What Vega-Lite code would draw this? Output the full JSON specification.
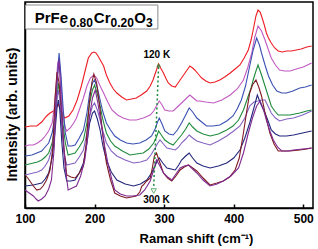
{
  "$schema": "https://vega.github.io/schema/vega-lite/v6.json",
  "width": 288,
  "height": 206,
  "autosize": {"type": "none"},
  "padding": {"left": 25, "top": 2, "right": 5, "bottom": 41},
  "config": {
    "font": "Liberation Sans",
    "view": {"stroke": "black", "strokeWidth": 1.5},
    "axis": {"grid": false}
  },
  "datasets": {
    "spectra": [
      {"s":"1","x":100,"y":81},{"s":"1","x":108,"y":82},{"s":"1","x":117,"y":82},{"s":"1","x":124,"y":86},{"s":"1","x":131,"y":92},{"s":"1","x":136,"y":95},{"s":"1","x":141,"y":97},{"s":"1","x":145,"y":100},{"s":"1","x":148,"y":104},{"s":"1","x":151,"y":98},{"s":"1","x":157,"y":90},{"s":"1","x":163,"y":92},{"s":"1","x":169,"y":98},{"s":"1","x":175,"y":108},{"s":"1","x":181,"y":122},{"s":"1","x":186,"y":136},{"s":"1","x":191,"y":150},{"s":"1","x":196,"y":155},{"s":"1","x":199,"y":156},{"s":"1","x":202,"y":155},{"s":"1","x":205,"y":152},{"s":"1","x":209,"y":147},{"s":"1","x":213,"y":142},{"s":"1","x":217,"y":133},{"s":"1","x":222,"y":125},{"s":"1","x":227,"y":119},{"s":"1","x":232,"y":115},{"s":"1","x":239,"y":111},{"s":"1","x":246,"y":108},{"s":"1","x":253,"y":109},{"s":"1","x":260,"y":110},{"s":"1","x":267,"y":113},{"s":"1","x":275,"y":117},{"s":"1","x":280,"y":122},{"s":"1","x":284,"y":128},{"s":"1","x":288,"y":136},{"s":"1","x":292,"y":144},{"s":"1","x":295,"y":140},{"s":"1","x":299,"y":135},{"s":"1","x":303,"y":129},{"s":"1","x":306,"y":125},{"s":"1","x":311,"y":122},{"s":"1","x":316,"y":121},{"s":"1","x":320,"y":125},{"s":"1","x":325,"y":130},{"s":"1","x":331,"y":136},{"s":"1","x":337,"y":142},{"s":"1","x":341,"y":140},{"s":"1","x":344,"y":138},{"s":"1","x":349,"y":134},{"s":"1","x":354,"y":130},{"s":"1","x":360,"y":127},{"s":"1","x":366,"y":125},{"s":"1","x":373,"y":126},{"s":"1","x":380,"y":128},{"s":"1","x":387,"y":131},{"s":"1","x":395,"y":135},{"s":"1","x":402,"y":139},{"s":"1","x":409,"y":143},{"s":"1","x":415,"y":150},{"s":"1","x":421,"y":158},{"s":"1","x":425,"y":168},{"s":"1","x":428,"y":178},{"s":"1","x":432,"y":192},{"s":"1","x":435,"y":198},{"s":"1","x":438,"y":196},{"s":"1","x":440,"y":192},{"s":"1","x":444,"y":183},{"s":"1","x":447,"y":175},{"s":"1","x":450,"y":170},{"s":"1","x":454,"y":165},{"s":"1","x":459,"y":160},{"s":"1","x":464,"y":157},{"s":"1","x":470,"y":156},{"s":"1","x":476,"y":157},{"s":"1","x":483,"y":157},{"s":"1","x":490,"y":158},{"s":"1","x":497,"y":159},{"s":"1","x":505,"y":161},{"s":"1","x":512,"y":162},
      {"s":"2","x":100,"y":62},{"s":"2","x":106,"y":63},{"s":"2","x":112,"y":63},{"s":"2","x":118,"y":65},{"s":"2","x":124,"y":68},{"s":"2","x":129,"y":72},{"s":"2","x":134,"y":77},{"s":"2","x":139,"y":85},{"s":"2","x":142,"y":100},{"s":"2","x":145,"y":125},{"s":"2","x":147,"y":145},{"s":"2","x":149,"y":150},{"s":"2","x":151,"y":135},{"s":"2","x":153,"y":110},{"s":"2","x":155,"y":90},{"s":"2","x":158,"y":80},{"s":"2","x":160,"y":77},{"s":"2","x":165,"y":80},{"s":"2","x":170,"y":85},{"s":"2","x":174,"y":90},{"s":"2","x":179,"y":100},{"s":"2","x":184,"y":110},{"s":"2","x":189,"y":122},{"s":"2","x":194,"y":130},{"s":"2","x":199,"y":133},{"s":"2","x":203,"y":130},{"s":"2","x":208,"y":122},{"s":"2","x":213,"y":115},{"s":"2","x":219,"y":106},{"s":"2","x":225,"y":98},{"s":"2","x":233,"y":93},{"s":"2","x":241,"y":90},{"s":"2","x":250,"y":88},{"s":"2","x":260,"y":88},{"s":"2","x":270,"y":90},{"s":"2","x":280,"y":93},{"s":"2","x":285,"y":97},{"s":"2","x":289,"y":102},{"s":"2","x":293,"y":107},{"s":"2","x":297,"y":103},{"s":"2","x":301,"y":98},{"s":"2","x":307,"y":97},{"s":"2","x":313,"y":97},{"s":"2","x":319,"y":101},{"s":"2","x":325,"y":105},{"s":"2","x":331,"y":109},{"s":"2","x":337,"y":113},{"s":"2","x":342,"y":110},{"s":"2","x":347,"y":107},{"s":"2","x":351,"y":107},{"s":"2","x":360,"y":106},{"s":"2","x":371,"y":105},{"s":"2","x":383,"y":108},{"s":"2","x":395,"y":113},{"s":"2","x":405,"y":119},{"s":"2","x":414,"y":128},{"s":"2","x":420,"y":140},{"s":"2","x":426,"y":155},{"s":"2","x":430,"y":170},{"s":"2","x":435,"y":182},{"s":"2","x":440,"y":177},{"s":"2","x":445,"y":168},{"s":"2","x":450,"y":158},{"s":"2","x":454,"y":150},{"s":"2","x":460,"y":143},{"s":"2","x":466,"y":138},{"s":"2","x":473,"y":137},{"s":"2","x":481,"y":137},{"s":"2","x":490,"y":139},{"s":"2","x":500,"y":141},{"s":"2","x":512,"y":145},
      {"s":"3","x":100,"y":52},{"s":"3","x":110,"y":53},{"s":"3","x":117,"y":55},{"s":"3","x":124,"y":57},{"s":"3","x":129,"y":61},{"s":"3","x":134,"y":65},{"s":"3","x":139,"y":75},{"s":"3","x":143,"y":92},{"s":"3","x":146,"y":125},{"s":"3","x":149,"y":155},{"s":"3","x":152,"y":130},{"s":"3","x":155,"y":98},{"s":"3","x":158,"y":75},{"s":"3","x":162,"y":62},{"s":"3","x":167,"y":62},{"s":"3","x":172,"y":63},{"s":"3","x":178,"y":70},{"s":"3","x":184,"y":78},{"s":"3","x":189,"y":95},{"s":"3","x":193,"y":115},{"s":"3","x":197,"y":125},{"s":"3","x":200,"y":128},{"s":"3","x":204,"y":120},{"s":"3","x":208,"y":108},{"s":"3","x":212,"y":96},{"s":"3","x":217,"y":85},{"s":"3","x":223,"y":78},{"s":"3","x":229,"y":72},{"s":"3","x":237,"y":68},{"s":"3","x":246,"y":65},{"s":"3","x":255,"y":64},{"s":"3","x":265,"y":65},{"s":"3","x":274,"y":68},{"s":"3","x":282,"y":72},{"s":"3","x":287,"y":79},{"s":"3","x":290,"y":85},{"s":"3","x":293,"y":90},{"s":"3","x":297,"y":84},{"s":"3","x":301,"y":77},{"s":"3","x":307,"y":74},{"s":"3","x":313,"y":73},{"s":"3","x":319,"y":78},{"s":"3","x":325,"y":85},{"s":"3","x":331,"y":93},{"s":"3","x":336,"y":100},{"s":"3","x":341,"y":96},{"s":"3","x":347,"y":90},{"s":"3","x":354,"y":86},{"s":"3","x":361,"y":82},{"s":"3","x":370,"y":82},{"s":"3","x":380,"y":83},{"s":"3","x":390,"y":87},{"s":"3","x":399,"y":92},{"s":"3","x":405,"y":99},{"s":"3","x":411,"y":108},{"s":"3","x":417,"y":122},{"s":"3","x":423,"y":142},{"s":"3","x":428,"y":158},{"s":"3","x":433,"y":170},{"s":"3","x":437,"y":163},{"s":"3","x":440,"y":155},{"s":"3","x":445,"y":143},{"s":"3","x":450,"y":132},{"s":"3","x":456,"y":123},{"s":"3","x":462,"y":117},{"s":"3","x":469,"y":115},{"s":"3","x":476,"y":115},{"s":"3","x":485,"y":117},{"s":"3","x":495,"y":120},{"s":"3","x":503,"y":121},{"s":"3","x":512,"y":123},
      {"s":"4","x":100,"y":43},{"s":"4","x":112,"y":45},{"s":"4","x":118,"y":46},{"s":"4","x":124,"y":48},{"s":"4","x":129,"y":51},{"s":"4","x":134,"y":55},{"s":"4","x":139,"y":65},{"s":"4","x":143,"y":82},{"s":"4","x":146,"y":110},{"s":"4","x":148,"y":125},{"s":"4","x":150,"y":115},{"s":"4","x":152,"y":100},{"s":"4","x":155,"y":82},{"s":"4","x":158,"y":65},{"s":"4","x":162,"y":53},{"s":"4","x":167,"y":54},{"s":"4","x":172,"y":55},{"s":"4","x":178,"y":61},{"s":"4","x":184,"y":68},{"s":"4","x":189,"y":85},{"s":"4","x":193,"y":105},{"s":"4","x":197,"y":118},{"s":"4","x":200,"y":123},{"s":"4","x":204,"y":114},{"s":"4","x":208,"y":102},{"s":"4","x":212,"y":88},{"s":"4","x":217,"y":75},{"s":"4","x":223,"y":67},{"s":"4","x":229,"y":62},{"s":"4","x":240,"y":57},{"s":"4","x":251,"y":53},{"s":"4","x":260,"y":54},{"s":"4","x":270,"y":55},{"s":"4","x":278,"y":59},{"s":"4","x":285,"y":65},{"s":"4","x":289,"y":71},{"s":"4","x":292,"y":77},{"s":"4","x":296,"y":73},{"s":"4","x":301,"y":68},{"s":"4","x":307,"y":65},{"s":"4","x":313,"y":63},{"s":"4","x":319,"y":68},{"s":"4","x":325,"y":73},{"s":"4","x":331,"y":79},{"s":"4","x":336,"y":85},{"s":"4","x":341,"y":81},{"s":"4","x":347,"y":77},{"s":"4","x":356,"y":74},{"s":"4","x":366,"y":72},{"s":"4","x":378,"y":74},{"s":"4","x":390,"y":78},{"s":"4","x":399,"y":82},{"s":"4","x":407,"y":88},{"s":"4","x":414,"y":98},{"s":"4","x":421,"y":112},{"s":"4","x":425,"y":120},{"s":"4","x":428,"y":128},{"s":"4","x":432,"y":137},{"s":"4","x":435,"y":143},{"s":"4","x":440,"y":133},{"s":"4","x":445,"y":122},{"s":"4","x":450,"y":111},{"s":"4","x":454,"y":102},{"s":"4","x":459,"y":97},{"s":"4","x":464,"y":93},{"s":"4","x":472,"y":93},{"s":"4","x":481,"y":93},{"s":"4","x":495,"y":95},{"s":"4","x":505,"y":97},{"s":"4","x":512,"y":98},
      {"s":"5","x":100,"y":33},{"s":"5","x":112,"y":35},{"s":"5","x":118,"y":36},{"s":"5","x":124,"y":38},{"s":"5","x":129,"y":42},{"s":"5","x":134,"y":48},{"s":"5","x":139,"y":60},{"s":"5","x":143,"y":85},{"s":"5","x":146,"y":110},{"s":"5","x":148,"y":118},{"s":"5","x":150,"y":108},{"s":"5","x":153,"y":80},{"s":"5","x":156,"y":55},{"s":"5","x":160,"y":43},{"s":"5","x":166,"y":44},{"s":"5","x":172,"y":45},{"s":"5","x":178,"y":51},{"s":"5","x":184,"y":58},{"s":"5","x":189,"y":75},{"s":"5","x":193,"y":92},{"s":"5","x":197,"y":102},{"s":"5","x":200,"y":105},{"s":"5","x":204,"y":98},{"s":"5","x":208,"y":88},{"s":"5","x":212,"y":77},{"s":"5","x":217,"y":65},{"s":"5","x":224,"y":57},{"s":"5","x":232,"y":52},{"s":"5","x":244,"y":48},{"s":"5","x":256,"y":45},{"s":"5","x":266,"y":46},{"s":"5","x":275,"y":48},{"s":"5","x":281,"y":53},{"s":"5","x":287,"y":60},{"s":"5","x":291,"y":65},{"s":"5","x":294,"y":68},{"s":"5","x":299,"y":64},{"s":"5","x":304,"y":60},{"s":"5","x":310,"y":59},{"s":"5","x":316,"y":58},{"s":"5","x":321,"y":61},{"s":"5","x":325,"y":65},{"s":"5","x":331,"y":69},{"s":"5","x":336,"y":73},{"s":"5","x":341,"y":70},{"s":"5","x":347,"y":67},{"s":"5","x":356,"y":65},{"s":"5","x":366,"y":63},{"s":"5","x":378,"y":67},{"s":"5","x":390,"y":72},{"s":"5","x":400,"y":77},{"s":"5","x":409,"y":82},{"s":"5","x":416,"y":90},{"s":"5","x":423,"y":102},{"s":"5","x":429,"y":106},{"s":"5","x":435,"y":107},{"s":"5","x":440,"y":108},{"s":"5","x":445,"y":108},{"s":"5","x":450,"y":101},{"s":"5","x":454,"y":95},{"s":"5","x":460,"y":90},{"s":"5","x":466,"y":87},{"s":"5","x":476,"y":89},{"s":"5","x":486,"y":90},{"s":"5","x":499,"y":93},{"s":"5","x":512,"y":97},
      {"s":"6","x":100,"y":22},{"s":"6","x":112,"y":23},{"s":"6","x":118,"y":24},{"s":"6","x":124,"y":25},{"s":"6","x":129,"y":29},{"s":"6","x":134,"y":35},{"s":"6","x":139,"y":50},{"s":"6","x":143,"y":75},{"s":"6","x":146,"y":100},{"s":"6","x":148,"y":108},{"s":"6","x":150,"y":98},{"s":"6","x":153,"y":65},{"s":"6","x":156,"y":40},{"s":"6","x":160,"y":27},{"s":"6","x":166,"y":27},{"s":"6","x":172,"y":28},{"s":"6","x":178,"y":35},{"s":"6","x":184,"y":45},{"s":"6","x":189,"y":65},{"s":"6","x":193,"y":85},{"s":"6","x":197,"y":95},{"s":"6","x":200,"y":97},{"s":"6","x":204,"y":89},{"s":"6","x":208,"y":78},{"s":"6","x":212,"y":62},{"s":"6","x":217,"y":48},{"s":"6","x":224,"y":36},{"s":"6","x":232,"y":28},{"s":"6","x":244,"y":24},{"s":"6","x":256,"y":22},{"s":"6","x":266,"y":24},{"s":"6","x":275,"y":28},{"s":"6","x":281,"y":34},{"s":"6","x":287,"y":42},{"s":"6","x":290,"y":47},{"s":"6","x":293,"y":50},{"s":"6","x":298,"y":45},{"s":"6","x":304,"y":40},{"s":"6","x":310,"y":39},{"s":"6","x":316,"y":38},{"s":"6","x":321,"y":43},{"s":"6","x":325,"y":48},{"s":"6","x":331,"y":52},{"s":"6","x":336,"y":55},{"s":"6","x":341,"y":50},{"s":"6","x":347,"y":45},{"s":"6","x":356,"y":42},{"s":"6","x":366,"y":40},{"s":"6","x":378,"y":42},{"s":"6","x":390,"y":45},{"s":"6","x":400,"y":50},{"s":"6","x":409,"y":58},{"s":"6","x":416,"y":70},{"s":"6","x":423,"y":85},{"s":"6","x":429,"y":100},{"s":"6","x":434,"y":113},{"s":"6","x":439,"y":104},{"s":"6","x":445,"y":95},{"s":"6","x":450,"y":86},{"s":"6","x":454,"y":78},{"s":"6","x":460,"y":74},{"s":"6","x":466,"y":72},{"s":"6","x":476,"y":72},{"s":"6","x":486,"y":73},{"s":"6","x":499,"y":75},{"s":"6","x":512,"y":77},
      {"s":"7","x":100,"y":33},{"s":"7","x":104,"y":30},{"s":"7","x":107,"y":27},{"s":"7","x":112,"y":22},{"s":"7","x":117,"y":18},{"s":"7","x":122,"y":19},{"s":"7","x":126,"y":22},{"s":"7","x":131,"y":28},{"s":"7","x":136,"y":38},{"s":"7","x":140,"y":60},{"s":"7","x":143,"y":108},{"s":"7","x":146,"y":136},{"s":"7","x":149,"y":125},{"s":"7","x":151,"y":110},{"s":"7","x":153,"y":92},{"s":"7","x":156,"y":60},{"s":"7","x":160,"y":33},{"s":"7","x":166,"y":31},{"s":"7","x":172,"y":30},{"s":"7","x":178,"y":35},{"s":"7","x":184,"y":42},{"s":"7","x":188,"y":65},{"s":"7","x":192,"y":102},{"s":"7","x":196,"y":125},{"s":"7","x":199,"y":134},{"s":"7","x":203,"y":125},{"s":"7","x":208,"y":98},{"s":"7","x":212,"y":72},{"s":"7","x":217,"y":45},{"s":"7","x":223,"y":28},{"s":"7","x":229,"y":15},{"s":"7","x":237,"y":12},{"s":"7","x":246,"y":10},{"s":"7","x":253,"y":11},{"s":"7","x":260,"y":12},{"s":"7","x":265,"y":16},{"s":"7","x":268,"y":22},{"s":"7","x":270,"y":23},{"s":"7","x":275,"y":27},{"s":"7","x":280,"y":30},{"s":"7","x":283,"y":40},{"s":"7","x":286,"y":52},{"s":"7","x":289,"y":55},{"s":"7","x":294,"y":45},{"s":"7","x":299,"y":35},{"s":"7","x":305,"y":30},{"s":"7","x":311,"y":27},{"s":"7","x":317,"y":32},{"s":"7","x":323,"y":38},{"s":"7","x":329,"y":41},{"s":"7","x":335,"y":43},{"s":"7","x":341,"y":40},{"s":"7","x":347,"y":37},{"s":"7","x":356,"y":30},{"s":"7","x":366,"y":23},{"s":"7","x":376,"y":25},{"s":"7","x":385,"y":27},{"s":"7","x":394,"y":31},{"s":"7","x":402,"y":38},{"s":"7","x":408,"y":50},{"s":"7","x":414,"y":75},{"s":"7","x":419,"y":98},{"s":"7","x":423,"y":115},{"s":"7","x":427,"y":123},{"s":"7","x":432,"y":128},{"s":"7","x":436,"y":121},{"s":"7","x":440,"y":112},{"s":"7","x":446,"y":92},{"s":"7","x":452,"y":75},{"s":"7","x":458,"y":64},{"s":"7","x":464,"y":57},{"s":"7","x":472,"y":57},{"s":"7","x":481,"y":57},{"s":"7","x":495,"y":58},{"s":"7","x":505,"y":59},{"s":"7","x":512,"y":60},
      {"s":"8","x":100,"y":18},{"s":"8","x":106,"y":15},{"s":"8","x":112,"y":12},{"s":"8","x":116,"y":9},{"s":"8","x":119,"y":7},{"s":"8","x":124,"y":9},{"s":"8","x":129,"y":12},{"s":"8","x":134,"y":19},{"s":"8","x":138,"y":28},{"s":"8","x":142,"y":60},{"s":"8","x":144,"y":95},{"s":"8","x":146,"y":125},{"s":"8","x":149,"y":148},{"s":"8","x":151,"y":120},{"s":"8","x":153,"y":95},{"s":"8","x":155,"y":68},{"s":"8","x":158,"y":40},{"s":"8","x":162,"y":18},{"s":"8","x":168,"y":20},{"s":"8","x":174,"y":22},{"s":"8","x":180,"y":32},{"s":"8","x":186,"y":48},{"s":"8","x":190,"y":70},{"s":"8","x":193,"y":93},{"s":"8","x":197,"y":110},{"s":"8","x":201,"y":118},{"s":"8","x":205,"y":104},{"s":"8","x":210,"y":82},{"s":"8","x":215,"y":60},{"s":"8","x":220,"y":42},{"s":"8","x":225,"y":28},{"s":"8","x":229,"y":18},{"s":"8","x":237,"y":14},{"s":"8","x":246,"y":12},{"s":"8","x":255,"y":12},{"s":"8","x":265,"y":13},{"s":"8","x":272,"y":18},{"s":"8","x":280,"y":27},{"s":"8","x":285,"y":38},{"s":"8","x":289,"y":48},{"s":"8","x":294,"y":42},{"s":"8","x":299,"y":35},{"s":"8","x":305,"y":31},{"s":"8","x":311,"y":28},{"s":"8","x":317,"y":34},{"s":"8","x":323,"y":40},{"s":"8","x":329,"y":42},{"s":"8","x":335,"y":43},{"s":"8","x":341,"y":39},{"s":"8","x":347,"y":35},{"s":"8","x":356,"y":28},{"s":"8","x":366,"y":22},{"s":"8","x":376,"y":24},{"s":"8","x":385,"y":27},{"s":"8","x":396,"y":32},{"s":"8","x":407,"y":40},{"s":"8","x":414,"y":55},{"s":"8","x":421,"y":75},{"s":"8","x":427,"y":90},{"s":"8","x":433,"y":102},{"s":"8","x":438,"y":107},{"s":"8","x":443,"y":98},{"s":"8","x":447,"y":88},{"s":"8","x":452,"y":77},{"s":"8","x":457,"y":68},{"s":"8","x":463,"y":61},{"s":"8","x":469,"y":57},{"s":"8","x":478,"y":57},{"s":"8","x":486,"y":58},{"s":"8","x":499,"y":59},{"s":"8","x":512,"y":60}
    ]
  },
  "layer": [
    {
      "data": {"name": "spectra"},
      "mark": {"type": "line", "strokeWidth": 1.1, "clip": true},
      "encoding": {
        "x": {
          "field": "x", "type": "quantitative",
          "scale": {"domain": [100, 514], "nice": false, "zero": false},
          "axis": {
            "title": "Raman shift (cm⁻¹)",
            "values": [100, 150, 200, 250, 300, 350, 400, 450, 500],
            "labelExpr": "datum.value % 100 === 0 ? datum.label : ''",
            "tickSize": -4, "tickColor": "black", "tickWidth": 1.5,
            "domainColor": "black", "domainWidth": 1.5,
            "labelFontSize": 12, "labelFontWeight": "bold", "labelColor": "black",
            "labelPadding": 9, "labelFlush": false,
            "titleFontSize": 13, "titleFontWeight": "bold", "titleColor": "black",
            "titleX": 171, "titleY": 34, "titleBaseline": "alphabetic"
          }
        },
        "y": {
          "field": "y", "type": "quantitative",
          "scale": {"domain": [0, 206], "nice": false, "zero": false},
          "axis": {
            "title": "Intensity (arb. units)",
            "ticks": false, "labels": false,
            "domainColor": "black", "domainWidth": 1.5,
            "titleFontSize": 14, "titleFontWeight": "bold", "titleColor": "black",
            "titleX": -9, "titleY": 112, "titleBaseline": "alphabetic"
          }
        },
        "color": {
          "field": "s", "type": "nominal", "legend": null,
          "scale": {
            "domain": ["8", "7", "6", "5", "4", "3", "2", "1"],
            "range": ["#7e2a90", "#7f1a24", "#23267c", "#8462c2", "#1f8a3c", "#3a50b2", "#c25ac2", "#ee1c24"]
          }
        }
      }
    },
    {
      "data": {"values": [{}]},
      "mark": {"type": "rect", "fill": "white", "stroke": "#8c8c8c", "strokeWidth": 1},
      "encoding": {"x": {"datum": 100.7}, "x2": {"datum": 291}, "y": {"datum": 203}, "y2": {"datum": 179}}
    },
    {
      "data": {"values": [{}]},
      "mark": {"type": "text", "text": "PrFe", "align": "left", "baseline": "alphabetic", "fontSize": 15, "fontWeight": "bold", "color": "black"},
      "encoding": {"x": {"datum": 114}, "y": {"datum": 185}}
    },
    {
      "data": {"values": [{}]},
      "mark": {"type": "text", "text": "0.80", "align": "left", "baseline": "alphabetic", "fontSize": 12, "fontWeight": "bold", "color": "black"},
      "encoding": {"x": {"datum": 164}, "y": {"datum": 181}}
    },
    {
      "data": {"values": [{}]},
      "mark": {"type": "text", "text": "Cr", "align": "left", "baseline": "alphabetic", "fontSize": 15, "fontWeight": "bold", "color": "black"},
      "encoding": {"x": {"datum": 199}, "y": {"datum": 185}}
    },
    {
      "data": {"values": [{}]},
      "mark": {"type": "text", "text": "0.20", "align": "left", "baseline": "alphabetic", "fontSize": 12, "fontWeight": "bold", "color": "black"},
      "encoding": {"x": {"datum": 223}, "y": {"datum": 181}}
    },
    {
      "data": {"values": [{}]},
      "mark": {"type": "text", "text": "O", "align": "left", "baseline": "alphabetic", "fontSize": 15, "fontWeight": "bold", "color": "black"},
      "encoding": {"x": {"datum": 257}, "y": {"datum": 185}}
    },
    {
      "data": {"values": [{}]},
      "mark": {"type": "text", "text": "3", "align": "left", "baseline": "alphabetic", "fontSize": 12, "fontWeight": "bold", "color": "black"},
      "encoding": {"x": {"datum": 274}, "y": {"datum": 181}}
    },
    {
      "data": {"values": [{}]},
      "mark": {"type": "text", "text": "120 K", "align": "center", "baseline": "alphabetic", "fontSize": 10, "fontWeight": "bold", "color": "black"},
      "encoding": {"x": {"datum": 289.5}, "y": {"datum": 150}}
    },
    {
      "data": {"values": [{}]},
      "mark": {"type": "text", "text": "300 K", "align": "center", "baseline": "alphabetic", "fontSize": 10, "fontWeight": "bold", "color": "black"},
      "encoding": {"x": {"datum": 289}, "y": {"datum": 5}}
    },
    {
      "data": {"values": [{}]},
      "mark": {"type": "rule", "color": "#1f8a3c", "strokeWidth": 1.5, "strokeDash": [2, 2.5]},
      "encoding": {"x": {"datum": 292}, "y": {"datum": 141}, "x2": {"datum": 285}, "y2": {"datum": 21}}
    },
    {
      "data": {"values": [{}]},
      "mark": {"type": "point", "shape": "triangle-up", "filled": true, "color": "#1f8a3c", "size": 22},
      "encoding": {"x": {"datum": 292}, "y": {"datum": 143}}
    },
    {
      "data": {"values": [{}]},
      "mark": {"type": "point", "shape": "triangle-down", "filled": false, "color": "#1f8a3c", "strokeWidth": 1, "size": 28},
      "encoding": {"x": {"datum": 285}, "y": {"datum": 17}}
    }
  ]
}
